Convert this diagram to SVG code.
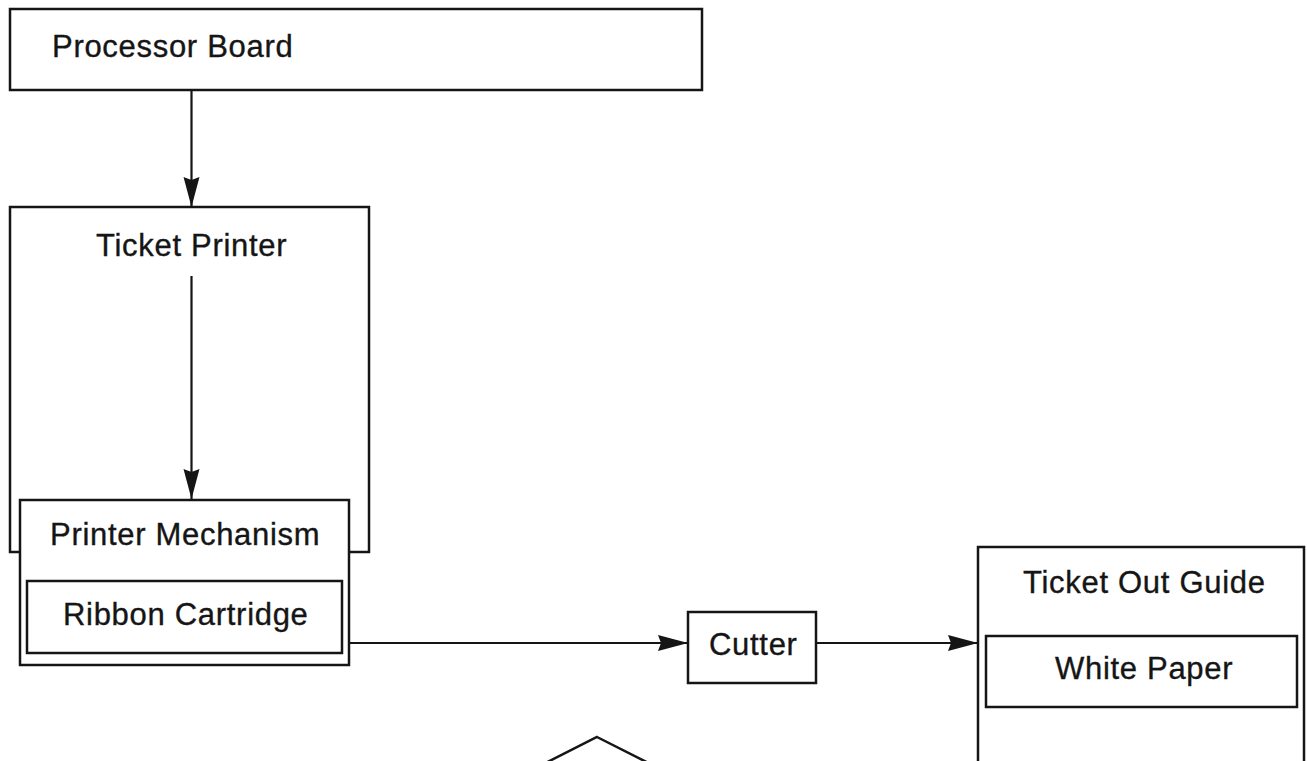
<svg xmlns="http://www.w3.org/2000/svg" width="1307" height="761" viewBox="0 0 1307 761">
  <style>
    .box { fill: #ffffff; stroke: #151515; stroke-width: 2.5; }
    .inner { fill: none; stroke: #151515; stroke-width: 2.5; }
    .label { font-family: "Liberation Sans", Arial, sans-serif; font-size: 31px; letter-spacing: 0.7px; fill: #151515; stroke: #151515; stroke-width: 0.35; }
    .wire { fill: none; stroke: #151515; stroke-width: 2.2; }
  </style>
  <defs>
    <marker id="arrow" markerUnits="userSpaceOnUse" markerWidth="32" markerHeight="18" refX="30" refY="8" orient="auto">
      <path d="M0,0 L30,8 L0,16 L3,8 Z" fill="#151515"/>
    </marker>
  </defs>

  <rect width="1307" height="761" fill="#ffffff"/>

  <!-- outer board feeding the printer -->
  <g id="processor-board">
    <rect class="box" x="10" y="9" width="692" height="81"/>
    <text class="label" x="52" y="57">Processor Board</text>
  </g>

  <g id="ticket-printer">
    <rect class="box" x="10" y="207" width="359" height="345"/>
    <text class="label" x="96" y="256">Ticket Printer</text>
  </g>

  <g id="printer-mechanism">
    <rect class="box" x="20" y="500" width="329" height="165"/>
    <text class="label" x="50" y="545">Printer Mechanism</text>
  </g>

  <g id="ribbon-cartridge">
    <rect class="inner" x="27" y="581" width="315" height="72"/>
    <text class="label" x="63" y="625">Ribbon Cartridge</text>
  </g>

  <g id="cutter">
    <rect class="box" x="688" y="612" width="128" height="71"/>
    <text class="label" x="709" y="655">Cutter</text>
  </g>

  <g id="ticket-out-guide">
    <rect class="box" x="978" y="547" width="326" height="230"/>
    <text class="label" x="1023" y="593">Ticket Out Guide</text>
  </g>

  <g id="white-paper">
    <rect class="inner" x="986" y="636" width="311" height="71"/>
    <text class="label" x="1055" y="679">White Paper</text>
  </g>

  <!-- decision shape continuing below the page edge -->
  <g id="decision">
    <polygon class="box" points="597,737 692,785 597,833 502,785"/>
  </g>

  <g id="connectors">
    <line class="wire" x1="191.5" y1="90" x2="191.5" y2="207" marker-end="url(#arrow)"/>
    <line class="wire" x1="191.5" y1="276" x2="191.5" y2="499" marker-end="url(#arrow)"/>
    <line class="wire" x1="349" y1="643" x2="688" y2="643" marker-end="url(#arrow)"/>
    <line class="wire" x1="816" y1="643" x2="978" y2="643" marker-end="url(#arrow)"/>
  </g>
</svg>
